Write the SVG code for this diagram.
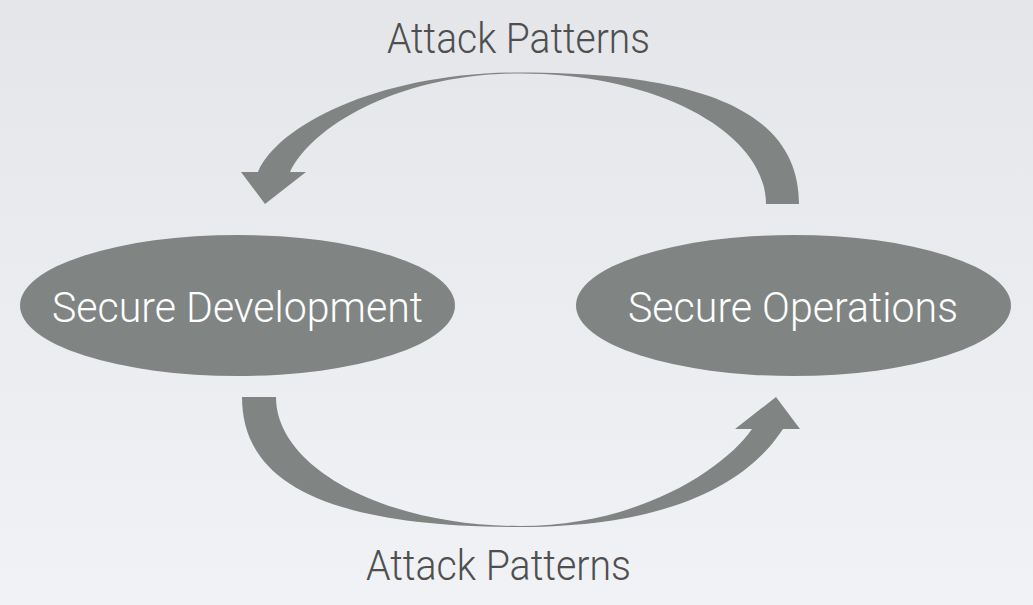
<svg xmlns="http://www.w3.org/2000/svg" width="1033" height="605" viewBox="0 0 1033 605">
  <defs>
    <linearGradient id="bg" x1="0" y1="0" x2="0" y2="1">
      <stop offset="0" stop-color="#e4e6e9"/>
      <stop offset="1" stop-color="#f1f2f5"/>
    </linearGradient>
    <style>
      .node { fill: #808584; }
      .arrow { fill: #808584; stroke: none; }
      .ntext { fill: #ffffff; font-family: Roboto, "Open Sans", Lato, "Liberation Sans", sans-serif; font-weight: 300; font-size: 42px; }
      .label { fill: #4f4f4f; font-family: Roboto, "Open Sans", Lato, "Liberation Sans", sans-serif; font-weight: 300; font-size: 42px; }
    </style>
  </defs>
  <rect x="0" y="0" width="1033" height="605" fill="url(#bg)"/>

  <g id="connectors">
    <g id="arrow-top">
      <path class="arrow" d="M 799,204 C 799,125 730,72.5 520,72.5 C 380,72.5 278,125 258,172 L 241,172 L 265,204 L 306,172 L 290,172 C 312,126 400,73.5 520,73.5 C 656,73.5 766,132 766,204 Z"/>
      <text class="label" x="387" y="53" textLength="263" lengthAdjust="spacingAndGlyphs">Attack Patterns</text>
    </g>
    <g id="arrow-bottom">
      <path class="arrow" d="M 242,397 C 242,475 311,527 520,527 C 710,527 765,456 783,429 L 800,429 L 776,397 L 735,429 L 752,429 C 725,468 640,526 520,526 C 385,526 276,468 276,397 Z"/>
      <text class="label" x="366" y="580" textLength="265" lengthAdjust="spacingAndGlyphs">Attack Patterns</text>
    </g>
  </g>

  <g id="node-secure-development">
    <ellipse class="node" cx="237.5" cy="305.5" rx="217.5" ry="70.5"/>
    <text class="ntext" x="52" y="322" textLength="371" lengthAdjust="spacingAndGlyphs">Secure Development</text>
  </g>

  <g id="node-secure-operations">
    <ellipse class="node" cx="793.5" cy="305.5" rx="217.5" ry="70.5"/>
    <text class="ntext" x="628" y="322" textLength="330" lengthAdjust="spacingAndGlyphs">Secure Operations</text>
  </g>
</svg>
